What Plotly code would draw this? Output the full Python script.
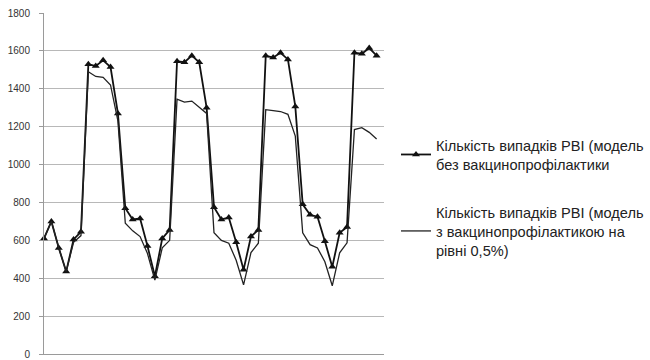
import plotly.graph_objects as go

# Monthly counts (46 points)
no_vacc = [610, 700, 560, 435, 605, 645,
           1530, 1520, 1550, 1515, 1270, 770, 710, 715, 570, 410, 610, 655,
           1545, 1540, 1575, 1540, 1300, 775, 710, 720, 590, 445, 620, 655,
           1575, 1565, 1590, 1555, 1307, 790, 735, 725, 595, 460, 640, 670,
           1590, 1585, 1615, 1575]
vacc = [610, 700, 560, 435, 590, 625,
        1490, 1465, 1460, 1420, 1230, 690, 650, 620, 530, 390, 560, 600,
        1345, 1330, 1335, 1305, 1270, 640, 600, 585, 495, 365, 535, 585,
        1290, 1285, 1280, 1265, 1150, 640, 577, 560, 487, 360, 534, 587,
        1185, 1195, 1170, 1135]
x_idx = list(range(len(no_vacc)))

name_a = "Кількість випадків РВІ (модель<br>без вакцинопрофілактики"
name_b = "Кількість випадків РВІ (модель<br>з вакцинопрофілактикою на<br>рівні 0,5%)"
y_ticks = [0, 200, 400, 600, 800, 1000, 1200, 1400, 1600, 1800]

fig = go.Figure()
fig.add_trace(go.Scatter(
    x=x_idx, y=no_vacc, name=name_a, mode="lines+markers",
    line=dict(color="#111111", width=1.8),
    marker=dict(symbol="triangle-up", size=7, color="#111111"),
    cliponaxis=False, legendgroup="a"))
fig.add_trace(go.Scatter(
    x=x_idx, y=vacc, name=name_b, mode="lines",
    line=dict(color="#222222", width=1.3),
    cliponaxis=False, legendgroup="b"))

fig.update_layout(
    width=650, height=360,
    margin=dict(l=44, r=266, t=13, b=6, autoexpand=False),
    paper_bgcolor="white", plot_bgcolor="white",
    font=dict(family="Liberation Sans, Arial, sans-serif", color="#222222"),
    showlegend=True,
    legend=dict(xref="container", yref="container",
                x=396 / 650, xanchor="left", y=1 - 129 / 360, yanchor="top",
                font=dict(size=14.6, color="#222222"),
                itemwidth=30, tracegroupgap=26,
                bgcolor="rgba(0,0,0,0)"),
    xaxis=dict(range=[0, 46], showticklabels=False, showgrid=False,
               zeroline=False, showline=True, linecolor="#9a9a9a",
               linewidth=1, ticks=""),
    yaxis=dict(range=[0, 1800], tickvals=y_ticks,
               ticktext=[str(v) for v in y_ticks],
               showgrid=True, gridcolor="#b8b8b8", gridwidth=1,
               zeroline=False, showline=True, linecolor="#9a9a9a",
               linewidth=1, ticks="outside", ticklen=4,
               ticklabelstandoff=7,
               tickcolor="#9a9a9a", tickfont=dict(size=10, color="#333333")),
)

fig.write_html("out.html")
